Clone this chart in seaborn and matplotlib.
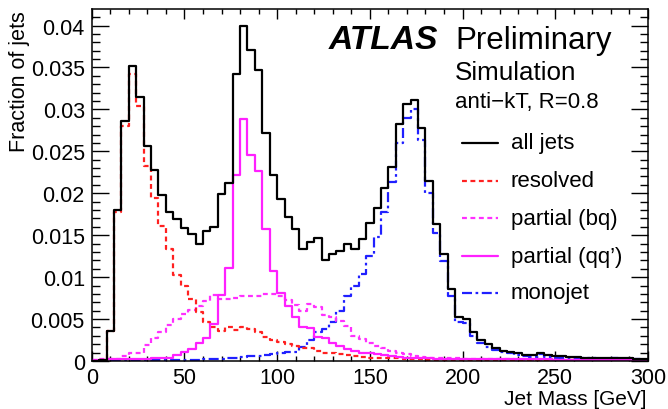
import numpy as np
import pandas as pd
import matplotlib
matplotlib.use("Agg")
import matplotlib.pyplot as plt
from matplotlib.ticker import MultipleLocator, FuncFormatter
from matplotlib.lines import Line2D
import seaborn as sns

# 4 GeV bins from 0 to 300 GeV
bin_width = 4
mass_range = (0, 300)
mass_centers = np.arange(mass_range[0], mass_range[1], bin_width) + bin_width / 2

all_jets = [
    0.0000, 0.0001, 0.0036, 0.0180, 0.0286, 0.0352, 0.0315, 0.0256, 0.0228, 0.0198,
    0.0178, 0.0169, 0.0158, 0.0151, 0.0139, 0.0155, 0.0160, 0.0199, 0.0212, 0.0342,
    0.0400, 0.0371, 0.0347, 0.0272, 0.0222, 0.0193, 0.0172, 0.0157, 0.0133, 0.0142,
    0.0147, 0.0121, 0.0127, 0.0131, 0.0139, 0.0134, 0.0145, 0.0165, 0.0182, 0.0206,
    0.0231, 0.0283, 0.0307, 0.0311, 0.0278, 0.0215, 0.0163, 0.0128, 0.0086, 0.0052,
    0.0050, 0.0034, 0.0025, 0.0020, 0.0016, 0.0012, 0.0011, 0.0009, 0.0007, 0.0007,
    0.0010, 0.0007, 0.0006, 0.0006, 0.0005, 0.0005, 0.0004, 0.0004, 0.0003, 0.0003,
    0.0004, 0.0003, 0.0003, 0.0002, 0.0002,
]

resolved = [
    0.0000, 0.0001, 0.0036, 0.0178, 0.0280, 0.0342, 0.0304, 0.0232, 0.0194, 0.0161,
    0.0134, 0.0103, 0.0089, 0.0074, 0.0058, 0.0047, 0.0041, 0.0036, 0.0040, 0.0037,
    0.0040, 0.0038, 0.0034, 0.0029, 0.0025, 0.0023, 0.0020, 0.0018, 0.0016, 0.0015,
    0.0012, 0.0010, 0.0010, 0.0008, 0.0007, 0.0006, 0.0005, 0.0004, 0.0004, 0.0003,
    0.0003, 0.0003, 0.0002, 0.0002, 0.0002, 0.0001, 0.0001, 0.0001, 0.0001, 0.0001,
    0.0001, 0.0001, 0.0001, 0.0001, 0.0001, 0.0001, 0.0001, 0.0001, 0.0001, 0.0001,
    0.0001, 0.0001, 0.0001, 0.0001, 0.0001, 0.0001, 0.0001, 0.0001, 0.0001, 0.0001,
    0.0001, 0.0001, 0.0001, 0.0001, 0.0001,
]

partial_bq = [
    0.0001, 0.0002, 0.0002, 0.0002, 0.0006, 0.0010, 0.0010, 0.0019, 0.0027, 0.0035,
    0.0043, 0.0050, 0.0056, 0.0061, 0.0066, 0.0071, 0.0079, 0.0074, 0.0074, 0.0075,
    0.0077, 0.0077, 0.0078, 0.0080, 0.0080, 0.0077, 0.0073, 0.0067, 0.0060, 0.0068,
    0.0064, 0.0055, 0.0052, 0.0048, 0.0042, 0.0030, 0.0026, 0.0022, 0.0018, 0.0015,
    0.0012, 0.0009, 0.0008, 0.0006, 0.0005, 0.0004, 0.0004, 0.0003, 0.0003, 0.0003,
    0.0002, 0.0002, 0.0002, 0.0002, 0.0002, 0.0002, 0.0002, 0.0001, 0.0001, 0.0001,
    0.0001, 0.0001, 0.0001, 0.0001, 0.0001, 0.0001, 0.0001, 0.0001, 0.0001, 0.0001,
    0.0001, 0.0001, 0.0001, 0.0001, 0.0001,
]

partial_qq = [
    0.0001, 0.0001, 0.0002, 0.0002, 0.0002, 0.0002, 0.0002, 0.0002, 0.0003, 0.0004,
    0.0004, 0.0007, 0.0011, 0.0014, 0.0021, 0.0028, 0.0044, 0.0079, 0.0111, 0.0222,
    0.0288, 0.0246, 0.0226, 0.0157, 0.0107, 0.0081, 0.0065, 0.0052, 0.0040, 0.0039,
    0.0029, 0.0027, 0.0021, 0.0018, 0.0014, 0.0012, 0.0010, 0.0009, 0.0008, 0.0007,
    0.0006, 0.0005, 0.0004, 0.0004, 0.0003, 0.0003, 0.0002, 0.0002, 0.0002, 0.0002,
    0.0002, 0.0002, 0.0002, 0.0002, 0.0002, 0.0002, 0.0002, 0.0002, 0.0002, 0.0002,
    0.0002, 0.0002, 0.0001, 0.0001, 0.0001, 0.0001, 0.0001, 0.0001, 0.0001, 0.0001,
    0.0001, 0.0001, 0.0001, 0.0001, 0.0001,
]

monojet = [
    0.0000, 0.0000, 0.0001, 0.0001, 0.0001, 0.0001, 0.0001, 0.0001, 0.0001, 0.0001,
    0.0001, 0.0001, 0.0001, 0.0001, 0.0001, 0.0002, 0.0002, 0.0002, 0.0003, 0.0004,
    0.0005, 0.0006, 0.0006, 0.0007, 0.0008, 0.0010, 0.0011, 0.0011, 0.0017, 0.0025,
    0.0035, 0.0038, 0.0047, 0.0060, 0.0078, 0.0090, 0.0104, 0.0125, 0.0148, 0.0178,
    0.0214, 0.0260, 0.0290, 0.0300, 0.0264, 0.0200, 0.0153, 0.0119, 0.0078, 0.0047,
    0.0045, 0.0030, 0.0022, 0.0017, 0.0013, 0.0011, 0.0009, 0.0007, 0.0006, 0.0005,
    0.0008, 0.0005, 0.0004, 0.0004, 0.0004, 0.0003, 0.0003, 0.0003, 0.0002, 0.0002,
    0.0003, 0.0002, 0.0002, 0.0002, 0.0001,
]

series_labels = ["all jets", "resolved", "partial (bq)", "partial (qq\u2019)", "monojet"]
x_ticks = [0, 50, 100, 150, 200, 250, 300]

sns.set_style("ticks")
plt.rcParams["font.family"] = ["Liberation Sans", "DejaVu Sans"]
plt.rcParams["text.color"] = "black"
plt.rcParams["axes.labelcolor"] = "black"

W, H = 668, 410
fig = plt.figure(figsize=(W / 100, H / 100), dpi=100)
ax = fig.add_axes([91.7 / W, 1 - 362 / H, (648 - 91.7) / W, (362 - 10) / H])

styles = [
    dict(color="black", linestyle="-"),
    dict(color="#ff2020", linestyle=(0, (2.2, 1.6))),
    dict(color="#ff30ff", linestyle=(0, (2.2, 1.6))),
    dict(color="#ff20ff", linestyle="-"),
    dict(color="#2020ff", linestyle=(0, (4.5, 1.6, 1.2, 1.6))),
]
data = [all_jets, resolved, partial_bq, partial_qq, monojet]

# draw background categories first, total last on top
for idx in [4, 2, 1, 3, 0]:
    frame = pd.DataFrame({"mass": mass_centers, "fraction": data[idx]})
    sns.histplot(data=frame, x="mass", weights="fraction",
                 binwidth=bin_width, binrange=mass_range,
                 element="step", fill=False, linewidth=1.6, ax=ax,
                 **styles[idx])

ax.set_xlim(0, 300)
ax.set_ylim(0, (362 - 10) / 8387)
ax.set_xticks(x_ticks)
ax.xaxis.set_minor_locator(MultipleLocator(10))
ax.yaxis.set_major_locator(MultipleLocator(0.005))
ax.yaxis.set_minor_locator(MultipleLocator(0.001))
ax.yaxis.set_major_formatter(FuncFormatter(lambda v, p: "%g" % round(v, 4)))
ax.tick_params(which="both", direction="in", top=True, right=True,
               labelsize=15.5, colors="black", labelcolor="black", width=1.0)
ax.tick_params(axis="x", which="major", length=7.5, pad=4)
ax.tick_params(axis="x", which="minor", length=3.8)
ax.tick_params(axis="y", which="major", length=12, pad=5)
ax.tick_params(axis="y", which="minor", length=6)
for sp in ax.spines.values():
    sp.set_linewidth(1.1)
    sp.set_color("black")

ax.set_xlabel("")
ax.set_ylabel("")
fig.text(647 / W, 1 - 405 / H, "Jet Mass [GeV]", ha="right", va="baseline",
         fontsize=15, color="black")
# rotated axis title: its end sits at the top of the frame
fig.text(25 / W, 1 - 11 / H, "Fraction of jets", ha="right", va="baseline",
         rotation=90, fontsize=15.5, rotation_mode="anchor", color="black")

def px(x, y):
    return x / W, 1 - y / H

fig.text(*px(329, 49), "ATLAS", fontsize=24.2, fontweight="bold",
         fontstyle="italic", va="baseline", color="black")
fig.text(*px(455, 49), "Preliminary", fontsize=22.5, va="baseline", color="black")
fig.text(*px(455, 80), "Simulation", fontsize=18.7, va="baseline", color="black")
fig.text(*px(455, 108), "anti\u2212kT, R=0.8", fontsize=16, va="baseline",
         color="black")

# legend drawn as line samples + labels
leg_y = [144, 182, 219, 257, 294]
for i in range(5):
    y = leg_y[i]
    fig.add_artist(Line2D([462 / W, 498 / W], [1 - y / H, 1 - y / H],
                          linewidth=1.6, transform=fig.transFigure,
                          **styles[i]))
    fig.text(*px(511, y + 5.5), series_labels[i], fontsize=16, va="baseline",
             color="black")

fig.savefig("out.png", dpi=100)
